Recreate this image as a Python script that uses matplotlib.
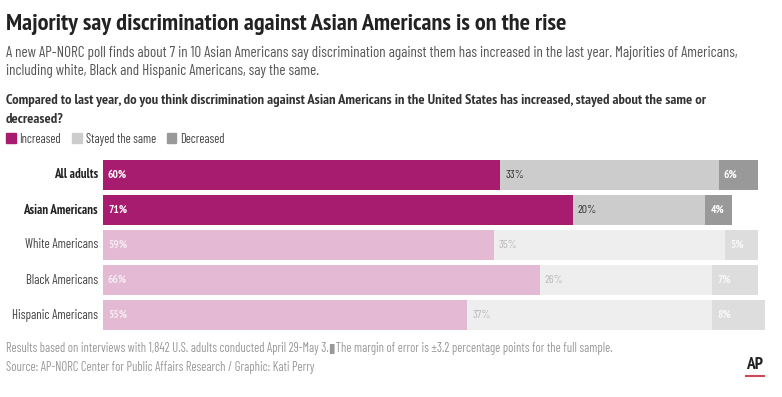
import matplotlib
matplotlib.use("Agg")
import math
import matplotlib.pyplot as plt
from matplotlib.patches import Rectangle
from matplotlib import font_manager
from matplotlib.font_manager import FontProperties
from matplotlib.textpath import TextPath

categories = ["All adults", "Asian Americans", "White Americans", "Black Americans", "Hispanic Americans"]
increased = [60, 71, 59, 66, 55]
stayed = [33, 20, 35, 26, 37]
decreased = [6, 4, 5, 7, 8]
highlight = [True, True, False, False, False]
series_names = ["Increased", "Stayed the same", "Decreased"]

TITLE = "Majority say discrimination against Asian Americans is on the rise"
SUB1 = "A new AP-NORC poll finds about 7 in 10 Asian Americans say discrimination against them has increased in the last year. Majorities of Americans,"
SUB2 = "including white, Black and Hispanic Americans, say the same."
Q1 = "Compared to last year, do you think discrimination against Asian Americans in the United States has increased, stayed about the same or"
Q2 = "decreased?"
FOOT1 = "Results based on interviews with 1,842 U.S. adults conducted April 29-May 3.\u25AEThe margin of error is \u00b13.2 percentage points for the full sample."
FOOT2 = "Source: AP-NORC Center for Public Affairs Research / Graphic: Kati Perry"

# ---- font selection: condensed families with real regular and bold faces
weights = {}
for f in font_manager.fontManager.ttflist:
    w = f.weight if isinstance(f.weight, int) else 400
    if f.style == "normal":
        weights.setdefault(f.name, set()).add(w)

candidates = ["Barlow Condensed", "Roboto Condensed", "Fira Sans Condensed",
              "Fira Sans Extra Condensed", "Sofia Sans Condensed", "Sofia Sans Extra Condensed",
              "Encode Sans Condensed", "IBM Plex Sans Condensed", "Asap Condensed",
              "Archivo Narrow", "Saira Condensed", "Saira Extra Condensed", "PT Sans Narrow",
              "Oswald", "Barlow Semi Condensed", "Encode Sans Compressed", "Mohave"]
candidates = [c for c in candidates if c in weights and 400 in weights[c] and 700 in weights[c]]

def ratio(fam, weight, s):
    fp = FontProperties(family=fam, weight=weight)
    w = TextPath((0, 0), s, size=100, prop=fp).get_extents().width
    c = TextPath((0, 0), "H", size=100, prop=fp).get_extents().height
    return c / w

def best(weight, s, target):
    bestf, bests = "Roboto Condensed" if "Roboto Condensed" in weights else "DejaVu Sans", 1e9
    for fam in candidates:
        try:
            r = ratio(fam, weight, s)
        except Exception:
            continue
        sc = abs(math.log(r / target))
        if sc < bests:
            bestf, bests = fam, sc
    return bestf

BOLD_FONT = best("bold", TITLE, 19.5 / 564)
BODY_FONT = best("normal", SUB1, 11.0 / 729)
plt.rcParams['font.family'] = [BODY_FONT, 'DejaVu Sans']
BOLD = [BOLD_FONT, "DejaVu Sans"]

W, H = 782, 397
fig = plt.figure(figsize=(W / 100, H / 100), dpi=100)
renderer = fig.canvas.get_renderer()

def fx(px):
    return px / W

def fy(py):
    return 1 - py / H

def size_for(text, width_px, **kw):
    t = fig.text(0, 0, text, fontsize=10, **kw)
    bb = t.get_window_extent(renderer=renderer)
    t.remove()
    return 10 * width_px / bb.width

def ftext(x, y, s, width, **kw):
    fs = size_for(s, width, **{k: v for k, v in kw.items() if k in ("fontweight", "family")})
    return fig.text(fx(x), fy(y), s, fontsize=fs, va="baseline", ha="left", **kw)

# header texts
ftext(6, 30, TITLE, 564, fontweight="bold", color="#222222", family=BOLD)
s1 = ftext(6, 57, SUB1, 729, color="#555555")
fig.text(fx(6), fy(75), SUB2, fontsize=s1.get_fontsize(), color="#555555", va="baseline", ha="left")
q1 = ftext(6, 104, Q1, 699, fontweight="bold", color="#333333", family=BOLD)
fig.text(fx(6), fy(123), Q2, fontsize=q1.get_fontsize(), fontweight="bold", color="#333333",
         va="baseline", ha="left", family=BOLD)

# legend
leg_colors = ["#A81C6F", "#CCCCCC", "#999999"]
leg_fs = size_for(series_names[0], 42)
lx = 6
for name, c in zip(series_names, leg_colors):
    fig.patches.append(Rectangle((fx(lx), fy(143)), fx(9.5), 9.5 / H, color=c, transform=fig.transFigure))
    t = fig.text(fx(lx + 13.5), fy(143), name, fontsize=leg_fs, color="#444444", va="baseline", ha="left")
    bb = t.get_window_extent(renderer=renderer)
    lx = bb.x1 + 11

# bars
ax = fig.add_axes([fx(103), fy(332.5), 662 / W, 175 / H])
ax.set_xlim(0, 100)
ax.set_ylim(4.5, -0.5)
ax.axis("off")

cat_fs = size_for(categories[-1], 86)
catb_fs = size_for(categories[1], 75, fontweight="bold", family=BOLD)
val_fs = size_for("60%", 19, fontweight="bold", family=BOLD)
valn_fs = size_for("33%", 19)

h = 0.845
for i, cat in enumerate(categories):
    hl = highlight[i]
    c_inc = "#A81C6F" if hl else "#E3B9D4"
    c_st = "#CCCCCC" if hl else "#EEEEEE"
    c_de = "#999999" if hl else "#DDDDDD"
    ax.barh(i, increased[i], height=h, color=c_inc, left=0)
    ax.barh(i, stayed[i], height=h, color=c_st, left=increased[i])
    ax.barh(i, decreased[i], height=h, color=c_de, left=increased[i] + stayed[i])
    off = 0.75
    ax.text(off, i, f"{increased[i]}%", va="center", ha="left", fontsize=val_fs,
            fontweight="bold", family=BOLD, color="white" if hl else "#F6EAF2")
    ax.text(increased[i] + off, i, f"{stayed[i]}%", va="center", ha="left", fontsize=valn_fs,
            color="#333333" if hl else "#BBBBBB")
    ax.text(increased[i] + stayed[i] + off, i, f"{decreased[i]}%", va="center", ha="left", fontsize=val_fs,
            fontweight="bold", family=BOLD, color="white" if hl else "#F8F8F8")
    if hl:
        ax.text(-0.75, i, cat, va="center", ha="right", fontsize=catb_fs,
                fontweight="bold", family=BOLD, color="#222222")
    else:
        ax.text(-0.75, i, cat, va="center", ha="right", fontsize=cat_fs, color="#444444")

# footer
f1 = ftext(6, 352, FOOT1, 606, color="#999999")
fig.text(fx(6), fy(371), FOOT2, fontsize=f1.get_fontsize(), color="#999999", va="baseline", ha="left")
ap_fs = size_for("AP", 17, fontweight="bold", family=BOLD)
fig.text(fx(754.5), fy(369), "AP", fontsize=ap_fs, fontweight="bold", family=BOLD, color="#222222",
         va="baseline", ha="center")
fig.lines.append(plt.Line2D([fx(746), fx(764)], [fy(376), fy(376)], color="#D0465A", lw=1.5,
                            transform=fig.transFigure))

fig.savefig("out.png", dpi=100, facecolor="white")
